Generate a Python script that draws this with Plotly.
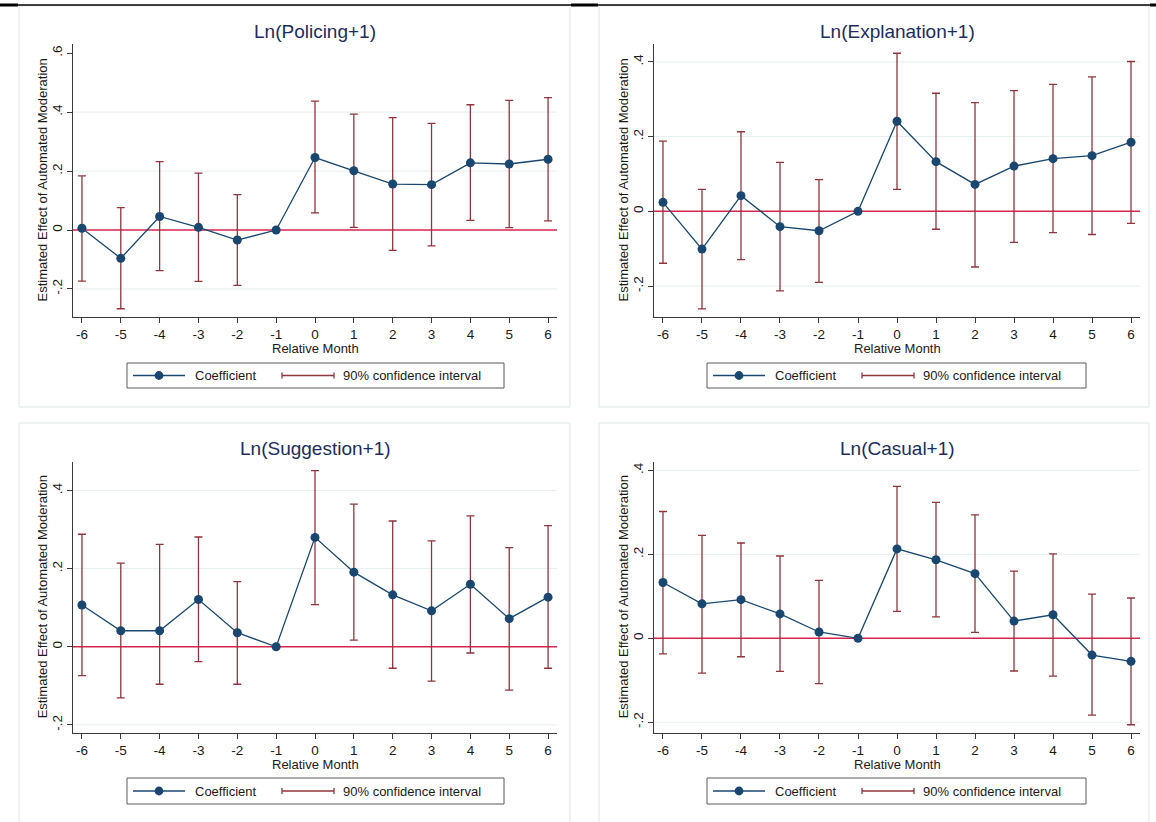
import plotly.graph_objects as go

# ---------------- data ----------------
months = [-6, -5, -4, -3, -2, -1, 0, 1, 2, 3, 4, 5, 6]

titles = ["Ln(Policing+1)", "Ln(Explanation+1)", "Ln(Suggestion+1)", "Ln(Casual+1)"]

policing_coef = [0.006, -0.096, 0.046, 0.009, -0.034, 0.0, 0.246, 0.201, 0.156, 0.154, 0.228, 0.224, 0.240]
policing_lo = [-0.173, -0.267, -0.138, -0.174, -0.188, None, 0.058, 0.009, -0.069, -0.054, 0.033, 0.008, 0.031]
policing_hi = [0.184, 0.076, 0.232, 0.193, 0.120, None, 0.437, 0.393, 0.381, 0.362, 0.425, 0.440, 0.449]

explanation_coef = [0.024, -0.101, 0.042, -0.041, -0.052, 0.0, 0.241, 0.133, 0.072, 0.121, 0.141, 0.149, 0.185]
explanation_lo = [-0.139, -0.261, -0.129, -0.213, -0.190, None, 0.059, -0.048, -0.149, -0.083, -0.057, -0.062, -0.032]
explanation_hi = [0.188, 0.059, 0.213, 0.131, 0.085, None, 0.423, 0.316, 0.291, 0.323, 0.340, 0.360, 0.401]

suggestion_coef = [0.107, 0.041, 0.041, 0.121, 0.036, 0.0, 0.280, 0.191, 0.133, 0.092, 0.160, 0.072, 0.127]
suggestion_lo = [-0.074, -0.131, -0.096, -0.038, -0.096, None, 0.108, 0.017, -0.055, -0.088, -0.016, -0.111, -0.055]
suggestion_hi = [0.288, 0.214, 0.262, 0.281, 0.167, None, 0.451, 0.365, 0.322, 0.271, 0.335, 0.254, 0.310]

casual_coef = [0.133, 0.082, 0.092, 0.058, 0.015, 0.0, 0.213, 0.187, 0.154, 0.041, 0.056, -0.040, -0.055]
casual_lo = [-0.037, -0.083, -0.044, -0.079, -0.108, None, 0.064, 0.051, 0.014, -0.078, -0.090, -0.183, -0.206]
casual_hi = [0.302, 0.245, 0.227, 0.196, 0.138, None, 0.362, 0.324, 0.294, 0.160, 0.201, 0.105, 0.096]

y_tick_values = [[-0.2, 0, 0.2, 0.4, 0.6], [-0.2, 0, 0.2, 0.4], [-0.2, 0, 0.2, 0.4], [-0.2, 0, 0.2, 0.4]]
y_tick_labels = [["-.2", "0", ".2", ".4", ".6"], ["-.2", "0", ".2", ".4"], ["-.2", "0", ".2", ".4"], ["-.2", "0", ".2", ".4"]]
grid_values = [[-0.2, 0.2, 0.4], [-0.2, 0.2, 0.4], [-0.2, 0.2, 0.4], [-0.2, 0.2, 0.4]]
y_ranges = [[-0.294, 0.630], [-0.282, 0.447], [-0.220, 0.473], [-0.225, 0.420]]
x_range = [-6.23, 6.23]

y_title = "Estimated Effect of Automated Moderation"
x_title = "Relative Month"
legend_labels = ["Coefficient", "90% confidence interval"]

coefs = [policing_coef, explanation_coef, suggestion_coef, casual_coef]
los = [policing_lo, explanation_lo, suggestion_lo, casual_lo]
his = [policing_hi, explanation_hi, suggestion_hi, casual_hi]

# ---------------- style / layout ----------------
W, H = 1156, 822
FONT = "Liberation Sans, Arial, Helvetica, sans-serif"
NAVY = "#1a476f"
MAROON = "#90353b"
ZERO = "#d6254d"
GRID = "#e6eef0"
AXIS = "#3a3a3a"
TEXT = "#1a1a1a"
TITLE = "#1c2d5e"
BORDER = "#dfe5e8"

# plot-area boxes in pixels: (x0, x1, ytop, ybottom)
boxes = [(73, 557, 44.3, 316.7), (654, 1140, 44.3, 316.7),
         (73, 557, 462, 732.7), (654, 1140, 462, 732.7)]
# panel frames in pixels
frames = [(19, 570, 6, 407), (599, 1149, 6, 407), (19, 570, 423, 830), (599, 1149, 423, 830)]
# legend boxes (x0, x1, ytop, ybottom)
leg_boxes = [(127, 504, 363, 388), (707, 1086, 363, 388), (127, 504, 778, 804), (707, 1086, 778, 804)]


def px(x):
    return x / W


def py(y):
    return 1 - y / H


fig = go.Figure()
shapes = []
annotations = []
layout_axes = {}

for i in range(4):
    sfx = "" if i == 0 else str(i + 1)
    xa, ya = "x" + sfx, "y" + sfx
    x0, x1, yt, yb = boxes[i]

    # confidence intervals (rcap)
    ci_x = [m for m, lo in zip(months, los[i]) if lo is not None]
    ci_lo = [lo for lo in los[i] if lo is not None]
    ci_hi = [hi for hi in his[i] if hi is not None]
    fig.add_trace(go.Scatter(
        x=ci_x, y=ci_lo, mode="markers", xaxis=xa, yaxis=ya,
        marker=dict(size=1, color="rgba(0,0,0,0)"),
        error_y=dict(type="data", symmetric=False,
                     array=[h - l for h, l in zip(ci_hi, ci_lo)],
                     arrayminus=[0] * len(ci_lo),
                     color=MAROON, thickness=1.3, width=4),
        showlegend=False, hoverinfo="skip"))

    # coefficients
    fig.add_trace(go.Scatter(
        x=months, y=coefs[i], mode="lines+markers", xaxis=xa, yaxis=ya,
        line=dict(color=NAVY, width=1.3),
        marker=dict(size=9, color=NAVY),
        showlegend=False))

    layout_axes["xaxis" + sfx] = dict(
        domain=[px(x0), px(x1)], anchor=ya, range=x_range,
        tickmode="array", tickvals=months, ticktext=[str(m) for m in months],
        ticks="outside", ticklen=5, tickwidth=1, tickcolor=AXIS,
        showline=True, linecolor=AXIS, linewidth=1, mirror=False,
        showgrid=False, zeroline=False,
        tickfont=dict(family=FONT, size=13.5, color=TEXT))
    layout_axes["yaxis" + sfx] = dict(
        domain=[py(yb), py(yt)], anchor=xa, range=y_ranges[i],
        tickmode="array", tickvals=y_tick_values[i], ticktext=y_tick_labels[i],
        tickangle=-90,
        ticks="outside", ticklen=5, tickwidth=1, tickcolor=AXIS,
        showline=True, linecolor=AXIS, linewidth=1, mirror=False,
        showgrid=False, zeroline=False,
        tickfont=dict(family=FONT, size=13.5, color=TEXT))

    # gridlines
    for g in grid_values[i]:
        shapes.append(dict(type="line", xref=xa + " domain", yref=ya,
                           x0=0, x1=1, y0=g, y1=g, layer="below",
                           line=dict(color=GRID, width=1)))
    # zero reference line
    shapes.append(dict(type="line", xref=xa + " domain", yref=ya,
                       x0=0, x1=1, y0=0, y1=0, layer="below",
                       line=dict(color=ZERO, width=1.5)))

    # panel frame
    fx0, fx1, fy0, fy1 = frames[i]
    shapes.append(dict(type="rect", xref="paper", yref="paper",
                       x0=px(fx0), x1=px(fx1), y0=py(fy1), y1=py(fy0),
                       line=dict(color=BORDER, width=1), layer="below"))

    # title
    cx = (x0 + x1) / 2
    title_y = 32 if i < 2 else 448
    annotations.append(dict(text=titles[i], xref="paper", yref="paper",
                            x=px(cx), y=py(title_y), xanchor="center", yanchor="middle",
                            showarrow=False, font=dict(family=FONT, size=19, color=TITLE)))
    # axis titles
    annotations.append(dict(text=x_title, xref="paper", yref="paper",
                            x=px(cx), y=py(yb + 31.5), xanchor="center", yanchor="middle",
                            showarrow=False, font=dict(family=FONT, size=13, color=TEXT)))
    annotations.append(dict(text=y_title, xref="paper", yref="paper",
                            x=px(x0 - 31), y=py((yt + yb) / 2), xanchor="center", yanchor="middle",
                            textangle=-90, showarrow=False,
                            font=dict(family=FONT, size=13, color=TEXT)))

    # legend
    lx0, lx1, lyt, lyb = leg_boxes[i]
    lyc = (lyt + lyb) / 2
    shapes.append(dict(type="rect", xref="paper", yref="paper",
                       x0=px(lx0), x1=px(lx1), y0=py(lyb), y1=py(lyt),
                       line=dict(color="#5a5a5a", width=1), fillcolor="white"))
    shapes.append(dict(type="line", xref="paper", yref="paper",
                       x0=px(lx0 + 6), x1=px(lx0 + 58), y0=py(lyc), y1=py(lyc),
                       line=dict(color=NAVY, width=1.3)))
    mcx = lx0 + 32
    shapes.append(dict(type="circle", xref="paper", yref="paper",
                       x0=px(mcx - 4.4), x1=px(mcx + 4.4), y0=py(lyc + 4.4), y1=py(lyc - 4.4),
                       line=dict(color=NAVY, width=0), fillcolor=NAVY))
    annotations.append(dict(text=legend_labels[0], xref="paper", yref="paper",
                            x=px(lx0 + 66), y=py(lyc), xanchor="left", yanchor="middle",
                            showarrow=False, font=dict(family=FONT, size=13, color=TEXT)))
    cs0, cs1 = lx0 + 155, lx0 + 207
    shapes.append(dict(type="line", xref="paper", yref="paper",
                       x0=px(cs0), x1=px(cs1), y0=py(lyc), y1=py(lyc),
                       line=dict(color=MAROON, width=1.3)))
    for cxp in (cs0, cs1):
        shapes.append(dict(type="line", xref="paper", yref="paper",
                           x0=px(cxp), x1=px(cxp), y0=py(lyc - 3), y1=py(lyc + 3),
                           line=dict(color=MAROON, width=1.3)))
    annotations.append(dict(text=legend_labels[1], xref="paper", yref="paper",
                            x=px(lx0 + 214), y=py(lyc), xanchor="left", yanchor="middle",
                            showarrow=False, font=dict(family=FONT, size=13, color=TEXT)))

# top black rule
shapes.append(dict(type="line", xref="paper", yref="paper", x0=0, x1=1,
                   y0=py(5), y1=py(5), line=dict(color="black", width=1.5)))
for a, b in [(0, 18), (571, 598), (1150, 1156)]:
    shapes.append(dict(type="line", xref="paper", yref="paper", x0=px(a), x1=px(b),
                       y0=py(5), y1=py(5), line=dict(color="black", width=3)))

fig.update_layout(
    width=W, height=H, margin=dict(l=0, r=0, t=0, b=0),
    paper_bgcolor="white", plot_bgcolor="rgba(0,0,0,0)",
    showlegend=False, shapes=shapes, annotations=annotations,
    font=dict(family=FONT, color=TEXT),
    **layout_axes)

fig.write_html("out.html", config={"displayModeBar": False},
               post_script="document.body.style.margin='0';document.body.style.padding='0';document.body.style.overflow='hidden';")
